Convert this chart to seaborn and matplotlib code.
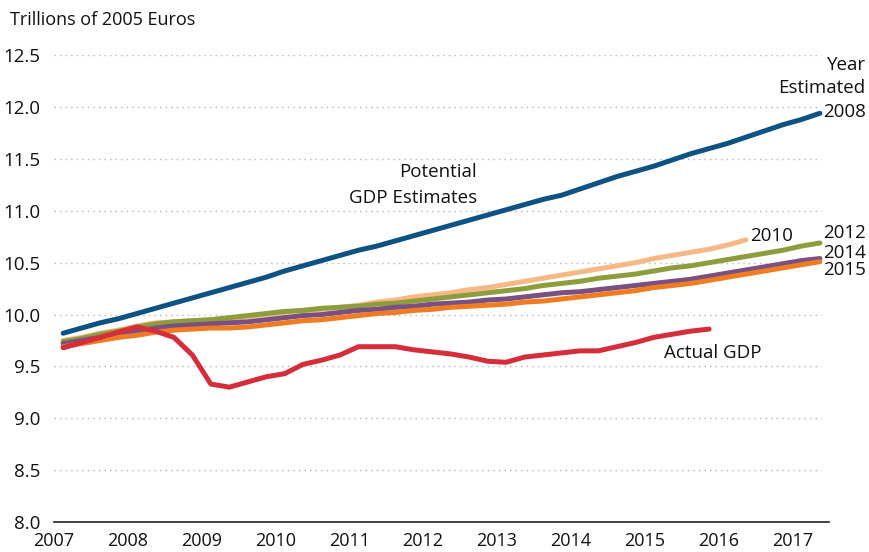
import matplotlib
matplotlib.use("Agg")
import matplotlib.pyplot as plt
import numpy as np
import pandas as pd
import seaborn as sns

# quarterly data, plotted at mid-quarter, starting 2007Q1
start_year = 2007.125

actual_gdp = [9.68, 9.73, 9.78, 9.83, 9.88, 9.84, 9.78, 9.61,
              9.33, 9.30, 9.35, 9.40, 9.43, 9.52, 9.56, 9.61,
              9.69, 9.69, 9.69, 9.66, 9.64, 9.62, 9.59, 9.55,
              9.54, 9.59, 9.61, 9.63, 9.65, 9.65, 9.69, 9.73,
              9.78, 9.81, 9.84, 9.86]

est_2008 = [9.82, 9.87, 9.92, 9.96, 10.01, 10.06, 10.11, 10.16,
            10.21, 10.26, 10.31, 10.36, 10.42, 10.47, 10.52, 10.57,
            10.62, 10.66, 10.71, 10.76, 10.81, 10.86, 10.91, 10.96,
            11.01, 11.06, 11.11, 11.15, 11.21, 11.27, 11.33, 11.38,
            11.43, 11.49, 11.55, 11.60, 11.65, 11.71, 11.77, 11.83,
            11.88, 11.94]

est_2010 = [9.75, 9.78, 9.82, 9.85, 9.89, 9.92, 9.93, 9.94,
            9.95, 9.96, 9.98, 10.00, 10.02, 10.04, 10.05, 10.07,
            10.09, 10.12, 10.14, 10.17, 10.19, 10.21, 10.24, 10.26,
            10.29, 10.32, 10.35, 10.38, 10.41, 10.44, 10.47, 10.50,
            10.54, 10.57, 10.60, 10.63, 10.67, 10.72]

est_2012 = [9.74, 9.77, 9.81, 9.84, 9.88, 9.91, 9.93, 9.94,
            9.95, 9.97, 9.99, 10.01, 10.03, 10.04, 10.06, 10.07,
            10.08, 10.10, 10.11, 10.13, 10.15, 10.17, 10.19, 10.21,
            10.23, 10.25, 10.28, 10.30, 10.32, 10.35, 10.37, 10.39,
            10.42, 10.45, 10.47, 10.50, 10.53, 10.56, 10.59, 10.62,
            10.66, 10.69]

est_2014 = [9.72, 9.75, 9.78, 9.81, 9.84, 9.87, 9.89, 9.90,
            9.91, 9.92, 9.93, 9.95, 9.97, 9.99, 10.00, 10.02,
            10.04, 10.05, 10.07, 10.08, 10.10, 10.11, 10.12, 10.14,
            10.15, 10.17, 10.19, 10.21, 10.22, 10.24, 10.26, 10.28,
            10.30, 10.32, 10.34, 10.37, 10.40, 10.43, 10.46, 10.49,
            10.52, 10.54]

est_2015 = [9.69, 9.72, 9.75, 9.78, 9.80, 9.83, 9.85, 9.86,
            9.87, 9.87, 9.88, 9.90, 9.92, 9.94, 9.95, 9.97,
            9.99, 10.01, 10.02, 10.04, 10.05, 10.07, 10.08, 10.09,
            10.10, 10.12, 10.13, 10.15, 10.17, 10.19, 10.21, 10.23,
            10.26, 10.28, 10.30, 10.33, 10.36, 10.39, 10.42, 10.45,
            10.48, 10.51]

year_ticks = list(range(2007, 2018))
y_ticks = [8.0, 8.5, 9.0, 9.5, 10.0, 10.5, 11.0, 11.5, 12.0, 12.5]

# drawing order: bundle first, then blue, red on top
series = [
    ("2010", est_2010, "#F8B885"),
    ("2012", est_2012, "#8E9D3C"),
    ("2014", est_2014, "#7A4F82"),
    ("2015", est_2015, "#EF7B23"),
    ("2008", est_2008, "#0D5283"),
    ("Actual", actual_gdp, "#D52E3A"),
]

sns.set_style("white")
plt.rcParams["font.family"] = ["Open Sans", "DejaVu Sans"]

fig = plt.figure(figsize=(8.7, 5.52), dpi=100)
ax = fig.add_axes([0.062, 0.0543, 0.891, 0.8457])

for name, vals, color in series:
    df = pd.DataFrame({"year": start_year + 0.25 * np.arange(len(vals)), "value": vals})
    sns.lineplot(data=df, x="year", y="value", color=color, lw=3.6, ax=ax)
    ax.lines[-1].set_solid_capstyle("round")
    ax.lines[-1].set_solid_joinstyle("round")

ax.set_xlim(2007, 2017.5)
ax.set_ylim(8.0, 12.5)
ax.set_xticks(year_ticks)
ax.set_xticklabels([str(y) for y in year_ticks])
ax.set_yticks(y_ticks)
ax.set_yticklabels([f"{v:.1f}" for v in y_ticks])
ax.set_xlabel("")
ax.set_ylabel("")

for v in y_ticks[1:]:
    ax.axhline(v, color="#B5B5B5", lw=1.0, ls=(0, (1, 3)), zorder=0, xmax=0.99)

for s in ["top", "right", "left"]:
    ax.spines[s].set_visible(False)
ax.spines["bottom"].set_color("#222222")
ax.spines["bottom"].set_linewidth(1.2)
ax.tick_params(axis="x", direction="out", length=5, width=1, color="#222222",
               labelsize=13, pad=2, labelcolor="#111111")
ax.tick_params(axis="y", length=0, labelsize=13.5, pad=10, labelcolor="#111111")

fig.text(0.012, 0.963, "Trillions of 2005 Euros", fontsize=13, color="#111111", va="center")

tkw = dict(fontsize=13.5, color="#111111", va="center")
fig.text(0.995, 0.882, "Year", ha="right", **tkw)
fig.text(0.995, 0.840, "Estimated", ha="right", **tkw)
fig.text(0.995, 0.797, "2008", ha="right", **tkw)
fig.text(0.862, 0.573, "2010", ha="left", **tkw)
fig.text(0.995, 0.578, "2012", ha="right", **tkw)
fig.text(0.995, 0.541, "2014", ha="right", **tkw)
fig.text(0.995, 0.510, "2015", ha="right", **tkw)
fig.text(0.548, 0.688, "Potential", ha="right", **tkw)
fig.text(0.548, 0.641, "GDP Estimates", ha="right", **tkw)
fig.text(0.763, 0.360, "Actual GDP", ha="left", **tkw)

fig.savefig("out.png", dpi=100)
